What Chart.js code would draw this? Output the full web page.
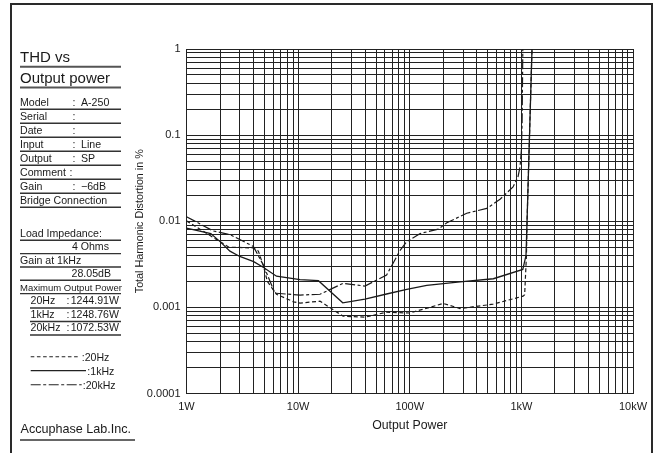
<!DOCTYPE html>
<html><head><meta charset="utf-8">
<script src="https://cdn.jsdelivr.net/npm/chart.js@4.4.0/dist/chart.umd.min.js"></script>
<style>
html,body{margin:0;padding:0;background:#fff;}
#wrap{position:relative;width:657px;height:453px;overflow:hidden;font-family:"Liberation Sans",Arial,Helvetica,sans-serif;color:#1a1a1a;}
#frame{position:absolute;left:10px;top:3px;width:643px;height:470px;border:2px solid #2a2a2a;border-bottom:none;box-sizing:border-box;}
#c{position:absolute;left:0;top:0;}
#deco{position:absolute;left:0;top:0;}
.t{position:absolute;white-space:nowrap;line-height:1;}
</style></head>
<body>
<div id="wrap">
<div id="frame"></div>
<canvas id="c" width="657" height="453"></canvas>
<svg id="deco" width="657" height="453" xmlns="http://www.w3.org/2000/svg"></svg>
</div>
<script>
// ---- data ----
const xDecades = [1, 10, 100, 1000, 10000];
const xTickLabels = ['1W', '10W', '100W', '1kW', '10kW'];
const yDecades = [0.0001, 0.001, 0.01, 0.1, 1];
const yTickLabels = ['0.0001', '0.001', '0.01', '0.1', '1'];

const seriesNames = [':20Hz', ':1kHz', ':20kHz'];

const power20Hz = [1, 2.4, 3.97, 4.4, 4.9, 5.3, 6.4, 9.1, 10.4, 15.7, 25.3, 40, 62, 100, 200, 282, 558, 1036, 1070, 1110, 1125, 1245];
const thd20Hz   = [0.0101, 0.0050, 0.0049, 0.0045, 0.0030, 0.0020, 0.00142, 0.00116, 0.00112, 0.00118, 0.00079, 0.00077, 0.00088, 0.00086, 0.00111, 0.00097, 0.00109, 0.00135, 0.0014, 0.004, 0.0103, 1];

const power1kHz = [1, 1.65, 2.0, 2.45, 3.0, 4.0, 4.9, 6.4, 10.4, 15.2, 25.1, 39.7, 62, 94, 142, 282, 561, 1030, 1100, 1125, 1245];
const thd1kHz   = [0.0083, 0.0072, 0.0058, 0.0045, 0.0039, 0.0034, 0.0029, 0.0023, 0.0021, 0.00204, 0.00113, 0.00125, 0.00143, 0.00162, 0.0018, 0.00198, 0.00215, 0.00276, 0.0040, 0.0103, 1];

const power20kHz = [1, 1.74, 2.45, 3.97, 4.88, 6.2, 10.4, 15.7, 25.3, 39.7, 62, 82, 94, 124, 180, 215, 324, 490, 644, 842, 934, 973, 1000, 1015, 1022, 1030];
const thd20kHz   = [0.0113, 0.0077, 0.0070, 0.0051, 0.0031, 0.00146, 0.00139, 0.00142, 0.0019, 0.00177, 0.00237, 0.0046, 0.0058, 0.0072, 0.0081, 0.0096, 0.0124, 0.0141, 0.018, 0.025, 0.033, 0.043, 0.067, 0.14, 0.33, 1];

// ---- left panel ----
const FONT = '"Liberation Sans", Arial, Helvetica, sans-serif';
const wrap = document.getElementById('wrap');
const svg = document.getElementById('deco');
const NS = 'http://www.w3.org/2000/svg';
function txt(s, x, base, fs, align) {
  const d = document.createElement('div');
  d.className = 't';
  d.textContent = s;
  d.style.fontSize = fs + 'px';
  d.style.top = (base - 0.8465 * fs) + 'px';
  if (align === 'right') d.style.right = (657 - x) + 'px'; else d.style.left = x + 'px';
  wrap.appendChild(d);
}
function line(x1, x2, y, w, col, dash) {
  const l = document.createElementNS(NS, 'line');
  l.setAttribute('x1', x1); l.setAttribute('x2', x2);
  l.setAttribute('y1', y); l.setAttribute('y2', y);
  l.setAttribute('stroke', col || '#333');
  l.setAttribute('stroke-width', w || 1.4);
  if (dash) l.setAttribute('stroke-dasharray', dash);
  svg.appendChild(l);
}
txt('THD vs', 20, 62, 15); line(20, 121, 66.8, 2, '#555');
txt('Output power', 20, 83, 15); line(20, 121, 87.6, 2, '#555');
const rows = [['Model', ':', 'A-250'], ['Serial', ':', ''], ['Date', ':', ''], ['Input', ':', 'Line'], ['Output', ':', 'SP'], ['Comment', ':', ''], ['Gain', ':', '\u22126dB'], ['Bridge Connection', '', '']];
rows.forEach((r, i) => {
  const b = 106.3 + i * 14;
  txt(r[0], 20, b, 10.6);
  if (r[1]) txt(r[1], r[0] === 'Comment' ? 69.5 : 72.5, b, 10.6);
  if (r[2]) txt(r[2], 81, b, 10.6);
  line(20, 121, b + 3, 1.4);
});
txt('Load Impedance:', 20, 237, 10.6); line(20, 121, 240.3, 1.4);
txt('4 Ohms', 109, 250.3, 10.6, 'right'); line(20, 121, 253.6, 1.4);
txt('Gain at 1kHz', 20, 263.6, 10.6); line(20, 121, 267, 1.4);
txt('28.05dB', 111, 277, 10.6, 'right'); line(20, 121, 280.3, 1.4);
txt('Maximum Output Power', 20, 290.6, 9.5); line(20, 121, 293.6, 1.4);
const mop = [['20Hz', '1244.91W'], ['1kHz', '1248.76W'], ['20kHz', '1072.53W']];
mop.forEach((r, i) => {
  const b = 304 + i * 13.5;
  txt(r[0], 30.5, b, 10.6);
  txt(':', 66.5, b, 10.6);
  txt(r[1], 70.7, b, 10.6);
  line(30, 121, b + 4, 1.4);
});
line(30.7, 80, 356.7, 1.1, '#222', '3.6 2.6');
txt(seriesNames[0], 81.7, 360.5, 10.6);
line(30.7, 86, 370.7, 1.2, '#222');
txt(seriesNames[1], 87.3, 374.5, 10.6);
line(30.7, 81.7, 384.7, 1.1, '#222', '10 2.5 3 2.5');
txt(seriesNames[2], 82.7, 388.5, 10.6);
txt('Accuphase Lab.Inc.', 20.5, 433.3, 12.6); line(20, 135, 440, 1.4);

// ---- chart ----
function logTicks(dec) {
  const out = [];
  for (let i = 0; i < dec.length - 1; i++) for (let m = 1; m < 10; m++) out.push(dec[i] * m);
  out.push(dec[dec.length - 1]);
  return out;
}
function labelFor(v, dec, labels) {
  for (let i = 0; i < dec.length; i++) if (Math.abs(v - dec[i]) / dec[i] < 1e-6) return labels[i];
  return '';
}
function pts(xs, ys) { return xs.map((x, i) => ({ x: x, y: ys[i] })); }
const INK = '#1a1a1a';
new Chart(document.getElementById('c'), {
  type: 'line',
  data: {
    datasets: [
      { label: seriesNames[0], data: pts(power20Hz, thd20Hz), borderColor: INK, borderWidth: 1.2, borderDash: [4, 2.6], pointRadius: 0, tension: 0, fill: false },
      { label: seriesNames[1], data: pts(power1kHz, thd1kHz), borderColor: INK, borderWidth: 1.3, pointRadius: 0, tension: 0, fill: false },
      { label: seriesNames[2], data: pts(power20kHz, thd20kHz), borderColor: INK, borderWidth: 1.2, borderDash: [10, 2.5, 3, 2.5], pointRadius: 0, tension: 0, fill: false }
    ]
  },
  options: {
    responsive: false,
    animation: false,
    events: [],
    layout: { padding: { left: 130, top: 49, right: 24, bottom: 16.5 } },
    plugins: { legend: { display: false }, tooltip: { enabled: false } },
    scales: {
      x: {
        type: 'logarithmic', min: 1, max: 10000,
        afterBuildTicks: s => { s.ticks = logTicks(xDecades).map(v => ({ value: v })); },
        afterFit: s => { s.height = 43; },
        ticks: { autoSkip: false, maxRotation: 0, padding: 7, color: INK, font: { family: FONT, size: 11 }, callback: v => labelFor(v, xDecades, xTickLabels) },
        grid: { color: '#222', lineWidth: 1, drawTicks: false },
        border: { display: true, color: '#222', width: 1 },
        title: { display: true, text: 'Output Power', color: INK, font: { family: FONT, size: 12.3 }, padding: { top: 4, bottom: 4 } }
      },
      y: {
        type: 'logarithmic', min: 0.0001, max: 1,
        afterBuildTicks: s => { s.ticks = logTicks(yDecades).map(v => ({ value: v })); },
        afterFit: s => { s.width = 56.5; },
        ticks: { autoSkip: false, padding: 6, color: INK, font: { family: FONT, size: 11 }, callback: v => labelFor(v, yDecades, yTickLabels) },
        grid: { color: '#222', lineWidth: 1, drawTicks: false },
        border: { display: true, color: '#222', width: 1 },
        title: { display: true, text: 'Total Harmonic Distortion in %', color: INK, font: { family: FONT, size: 10.75 }, padding: { top: 4, bottom: 4 } }
      }
    }
  }
});
</script>
</body></html>
